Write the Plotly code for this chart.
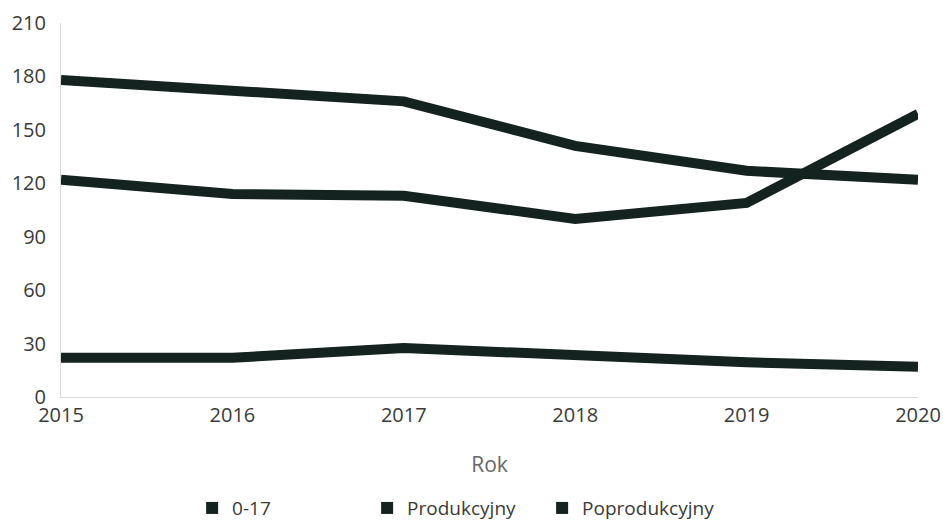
import plotly.graph_objects as go

YEARS = [2015, 2016, 2017, 2018, 2019, 2020]
SERIES = ["0-17", "Produkcyjny", "Poprodukcyjny"]
VAL_0_17 = [178, 172, 166, 141, 127, 122]
VAL_PROD = [122, 114, 113, 100, 109, 159]
VAL_POPROD = [22, 22, 27.5, 23.5, 19.5, 17]
Y_TICKS = [0, 30, 60, 90, 120, 150, 180, 210]

INK = "#142220"
AXIS = "#d9d9d9"
TEXT = "#3a3a3a"
FONT = "Open Sans, DejaVu Sans, sans-serif"

fig = go.Figure()
for name, vals in zip(SERIES, [VAL_0_17, VAL_PROD, VAL_POPROD]):
    fig.add_trace(go.Scatter(x=YEARS, y=vals, mode="lines", name=name,
                             line=dict(color=INK, width=10),
                             showlegend=False))
    # legend entry with a square swatch, as in the original
    fig.add_trace(go.Scatter(x=[None], y=[None], mode="markers", name=name,
                             marker=dict(symbol="square", size=12, color=INK)))

fig.update_layout(
    template="plotly_white",
    width=943, height=520,
    paper_bgcolor="white", plot_bgcolor="white",
    font=dict(family=FONT, color=TEXT, size=20),
    margin=dict(l=61, r=25, t=23, b=123, autoexpand=False),
    xaxis=dict(range=[2015, 2020], tickmode="array", tickvals=YEARS,
               showgrid=False, zeroline=False, showline=True,
               linecolor=AXIS, linewidth=1, ticks="", automargin=False,
               tickfont=dict(size=20, color=TEXT),
               title=dict(text="Rok", standoff=30,
                          font=dict(size=21, color="#666666"))),
    yaxis=dict(range=[0, 210], tickmode="array", tickvals=Y_TICKS,
               showgrid=False, zeroline=False, showline=True,
               linecolor=AXIS, linewidth=1, ticks="", automargin=False,
               ticklabelstandoff=10,
               tickfont=dict(size=20, color=TEXT)),
    legend=dict(orientation="h", x=0.153, xanchor="left",
                y=-0.297, yanchor="middle", entrywidth=130,
                itemwidth=30, font=dict(size=19, color=TEXT)),
)

# drop the page's default 8px body margin so the figure sits at 0,0
fig.write_html("out.html", config={"displayModeBar": False},
               post_script="document.body.style.margin='0';")
